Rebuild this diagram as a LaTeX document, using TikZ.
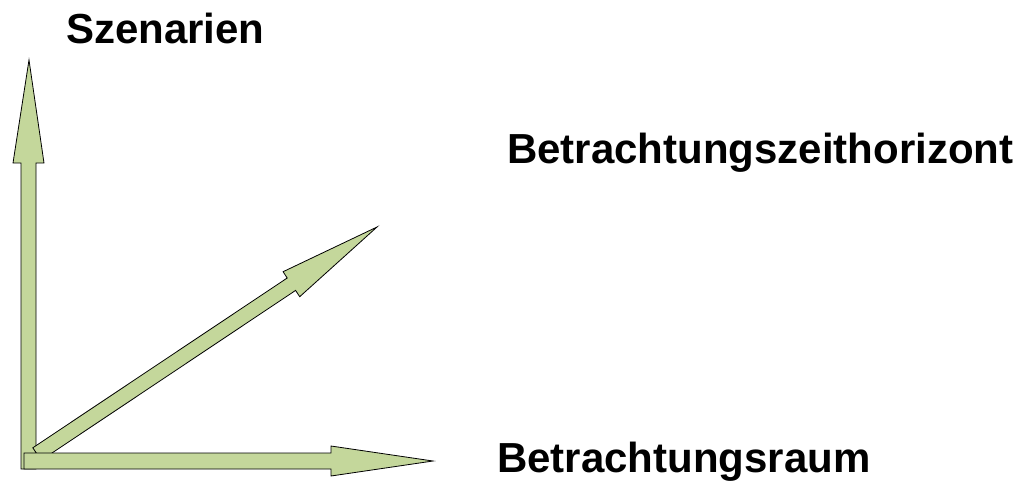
\documentclass[tikz,border=0pt]{standalone}
\usepackage{fontspec}
\setmainfont{Liberation Sans}
\definecolor{arrowgreen}{HTML}{C4D79B}
\begin{document}
\begin{tikzpicture}[x=1pt,y=-1pt,
  fatarrow/.style={fill=arrowgreen,draw=black,line width=0.8pt,line join=miter},
  axislabel/.style={inner sep=0pt,anchor=base west,font=\fontsize{42}{42}\selectfont\bfseries}]
  \useasboundingbox[fill=white] (0,0) rectangle (1032,480);

  % vertical axis: Szenarien
  \draw[fatarrow] (21,469) -- (21,163) -- (13,163) -- (29,60) -- (44,163) -- (36,163) -- (36,469) -- cycle;

  % diagonal axis: Betrachtungszeithorizont
  \draw[fatarrow] (41.2,460.2) -- (295.6,290.4) -- (299.7,296.7) -- (377,227)
    -- (283.1,271.7) -- (287.2,278.0) -- (32.8,447.8) -- cycle;

  % horizontal axis: Betrachtungsraum
  \draw[fatarrow] (24,453) -- (331,453) -- (331,446) -- (433,461) -- (331,476) -- (331,469) -- (24,469) -- cycle;

  \node[axislabel] (szen) at (66,43) {Szenarien};
  \node[axislabel] (zeit) at (507,163) {Betrachtungszeithorizont};
  \node[axislabel] (raum) at (497,472) {Betrachtungsraum};
\end{tikzpicture}
\end{document}
